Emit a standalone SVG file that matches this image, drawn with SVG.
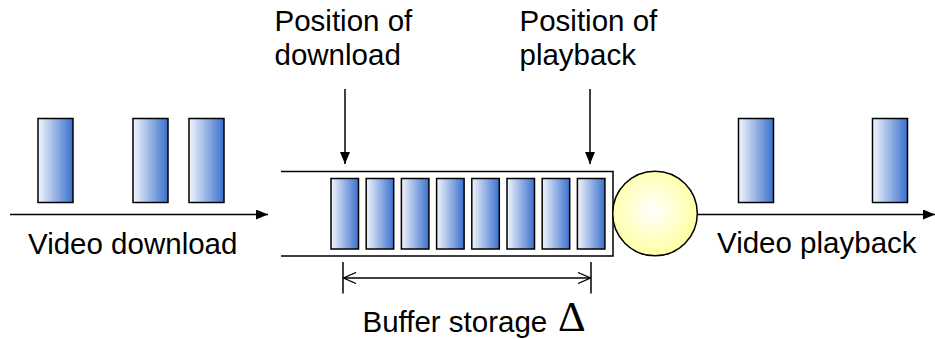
<svg xmlns="http://www.w3.org/2000/svg" width="935" height="339" viewBox="0 0 935 339">
<defs>
<linearGradient id="blk" x1="0" y1="0" x2="1" y2="0">
<stop offset="0" stop-color="#f2f6fc"/>
<stop offset="1" stop-color="#3a70cc"/>
</linearGradient>
<radialGradient id="ball" cx="0.47" cy="0.46" r="0.6">
<stop offset="0" stop-color="#ffffff"/>
<stop offset="1" stop-color="#ffff99"/>
</radialGradient>
<marker id="ah" markerWidth="12" markerHeight="10" refX="12" refY="5" orient="auto" markerUnits="userSpaceOnUse">
<path d="M0,0 L12,5 L0,10 Z" fill="#000"/>
</marker>
<marker id="oa" markerWidth="14" markerHeight="12" refX="13.5" refY="6" orient="auto-start-reverse" markerUnits="userSpaceOnUse">
<path d="M1,0.5 L13.5,6 L1,11.5" fill="none" stroke="#000" stroke-width="1.3"/>
</marker>
</defs>
<style>
.b{fill:url(#blk);stroke:#000;stroke-width:1.5}
.t{font-family:"Liberation Sans",Arial,sans-serif;font-size:29.5px;fill:#000}
.l{stroke:#000;stroke-width:1.5;fill:none}
</style>
<rect width="935" height="339" fill="#fff"/>
<g id="download-blocks">
<rect class="b" x="38" y="118.5" width="35" height="84"/>
<rect class="b" x="133" y="118.5" width="35" height="84"/>
<rect class="b" x="189" y="118.5" width="35" height="84"/>
</g>
<g id="playback-blocks">
<rect class="b" x="738.5" y="118.5" width="35" height="84"/>
<rect class="b" x="872.5" y="118.5" width="35" height="84"/>
</g>
<g id="buffer">
<path class="l" d="M281,171.5 H613 V256 H281"/>
<rect class="b" x="331" y="178.5" width="27.5" height="70.5"/>
<rect class="b" x="366.2" y="178.5" width="27.5" height="70.5"/>
<rect class="b" x="401.4" y="178.5" width="27.5" height="70.5"/>
<rect class="b" x="436.6" y="178.5" width="27.5" height="70.5"/>
<rect class="b" x="471.8" y="178.5" width="27.5" height="70.5"/>
<rect class="b" x="507" y="178.5" width="27.5" height="70.5"/>
<rect class="b" x="542.2" y="178.5" width="27.5" height="70.5"/>
<rect class="b" x="577.4" y="178.5" width="27.5" height="70.5"/>
</g>
<g id="player">
<circle cx="655" cy="213.5" r="42.3" fill="url(#ball)" stroke="#000" stroke-width="1.5"/>
</g>
<g id="connectors">
<line class="l" x1="10" y1="214.5" x2="268" y2="214.5" marker-end="url(#ah)"/>
<line class="l" x1="697" y1="214.5" x2="935" y2="214.5" marker-end="url(#ah)"/>
<line class="l" x1="345" y1="89" x2="345" y2="164" marker-end="url(#ah)"/>
<line class="l" x1="590" y1="89" x2="590" y2="164" marker-end="url(#ah)"/>
<line class="l" x1="343" y1="262" x2="343" y2="293.5"/>
<line class="l" x1="591" y1="262" x2="591" y2="293.5"/>
<line class="l" x1="343.5" y1="278" x2="590.5" y2="278" marker-start="url(#oa)" marker-end="url(#oa)"/>
</g>
<g id="labels">
<text class="t" x="274.5" y="31">Position of</text>
<text class="t" x="274.5" y="65">download</text>
<text class="t" x="519.5" y="31">Position of</text>
<text class="t" x="519.5" y="65">playback</text>
<text class="t" x="28" y="254">Video download</text>
<text class="t" x="717" y="253">Video playback</text>
<text class="t" x="362.5" y="332">Buffer storage</text>
<text x="558" y="331" font-family="'Liberation Serif','Times New Roman',serif" font-size="43">Δ</text>
</g>
</svg>
